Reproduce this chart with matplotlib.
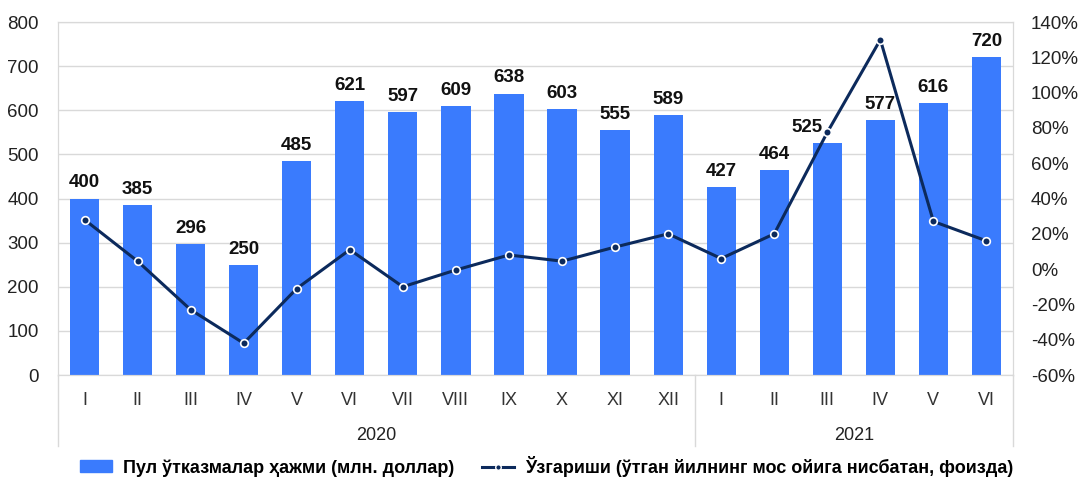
import numpy as np
import matplotlib.pyplot as plt
from matplotlib.lines import Line2D
from matplotlib.patches import Patch

plt.rcParams['font.family'] = ['Liberation Sans', 'DejaVu Sans']

months = ['I', 'II', 'III', 'IV', 'V', 'VI', 'VII', 'VIII', 'IX', 'X', 'XI', 'XII',
          'I', 'II', 'III', 'IV', 'V', 'VI']
years = ['2020', '2021']
volume = [400, 385, 296, 250, 485, 621, 597, 609, 638, 603, 555, 589,
          427, 464, 525, 577, 616, 720]
change = [28, 4.5, -23, -42, -11, 11, -10, -0.5, 8, 4.5, 12.5, 20,
          6, 20, 77.5, 130, 27, 16]

bar_color = '#3a7bfd'
line_color = '#0c2a5c'
grid_color = '#d9d9d9'

fig = plt.figure(figsize=(10.78, 4.79), dpi=100)
ax = fig.add_axes([0.0538, 0.2171, 0.8859, 0.7369])
x = np.arange(len(months))

ax.bar(x, volume, width=0.55, color=bar_color, zorder=2)
# label of the 2021-III bar sits a bit to the left of the line
shift = {14: -0.38}
for i, (xi, v) in enumerate(zip(x, volume)):
    ax.text(xi + shift.get(i, 0), v + 16, str(v), ha='center', va='bottom',
            fontsize=13.5, fontweight='bold', color='#111111', zorder=5)

ax.set_xlim(-0.5, len(months) - 0.5)
ax.set_ylim(0, 800)
ax.set_yticks(range(0, 801, 100))
ax.yaxis.grid(True, color=grid_color, lw=1, zorder=0)
ax.set_axisbelow(True)
ax.set_xticks(x)
ax.set_xticklabels(months)
ax.tick_params(axis='x', length=0, pad=12, labelsize=13, colors='#333333')
ax.tick_params(axis='y', length=0, labelsize=13.5, colors='#222222', pad=14)
for s in ax.spines.values():
    s.set_color(grid_color)

ax2 = ax.twinx()
ax2.plot(x, change, color=line_color, lw=2.2, marker='o', ms=5.5,
         markerfacecolor=line_color, markeredgecolor='white', markeredgewidth=1.2,
         zorder=3)
ax2.set_ylim(-60, 140)
ax2.set_yticks(range(-60, 141, 20))
ax2.set_yticklabels([f'{t}%' for t in range(-60, 141, 20)])
ax2.tick_params(axis='y', length=0, labelsize=13.5, colors='#222222', pad=13)
for s in ax2.spines.values():
    s.set_color(grid_color)

# category separators and year labels
sep_bottom = -71 / 353
for xs in [-0.5, 11.5, len(months) - 0.5]:
    ax.plot([xs, xs], [0, sep_bottom], transform=ax.get_xaxis_transform(),
            color=grid_color, lw=1, clip_on=False)
ax.text(5.5, -60 / 353, years[0], transform=ax.get_xaxis_transform(),
        ha='center', va='center', fontsize=13, color='#222222')
ax.text(14.5, -60 / 353, years[1], transform=ax.get_xaxis_transform(),
        ha='center', va='center', fontsize=13, color='#222222')

handles = [Patch(color=bar_color),
           Line2D([0], [0], color=line_color, lw=2.2, marker='o', ms=4,
                  markerfacecolor=line_color, markeredgecolor='white')]
labels = ['Пул ўтказмалар ҳажми (млн. доллар)',
          'Ўзгариши (ўтган йилнинг мос ойига нисбатан, фоизда)']
fig.legend(handles, labels, loc='center', bbox_to_anchor=(0.507, 0.027), ncol=2,
           frameon=False, prop={'weight': 'bold', 'size': 13},
           handlelength=1.8, handleheight=0.6, columnspacing=1.5, handletextpad=0.6)

fig.savefig('out.png', dpi=100)
